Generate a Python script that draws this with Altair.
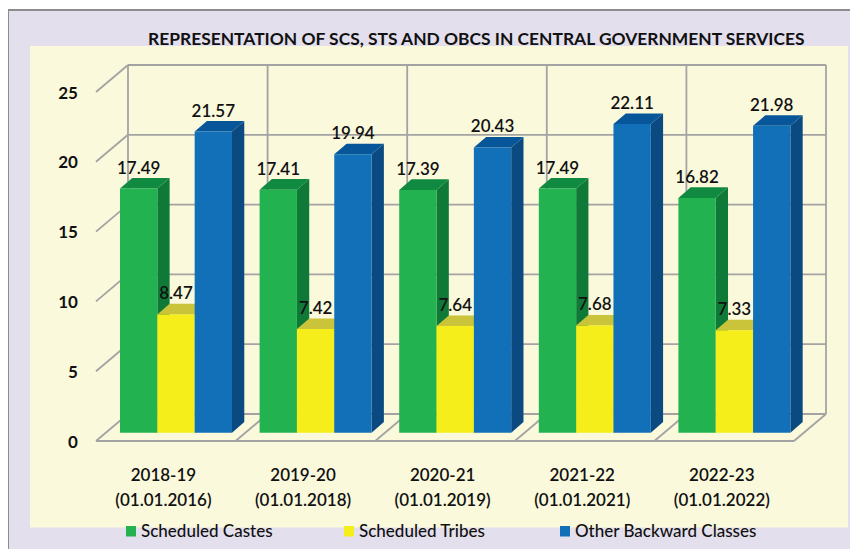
import altair as alt
import pandas as pd

# ---- data ----
periods = ["2018-19", "2019-20", "2020-21", "2021-22", "2022-23"]
dates = ["(01.01.2016)", "(01.01.2018)", "(01.01.2019)", "(01.01.2021)", "(01.01.2022)"]
sc = [17.49, 17.41, 17.39, 17.49, 16.82]
st = [8.47, 7.42, 7.64, 7.68, 7.33]
obc = [21.57, 19.94, 20.43, 22.11, 21.98]
y_ticks = [0, 5, 10, 15, 20, 25]
title_text = "REPRESENTATION OF SCS, STS AND OBCS IN CENTRAL GOVERNMENT SERVICES"
legend_names = ["Scheduled Castes", "Scheduled Tribes", "Other Backward Classes"]

# ---- geometry of the pseudo-3D drawing, in data units ----
W, H = 840, 539
X_SCALE = alt.Scale(domain=[-0.616, 5.4011], range=[0, W], nice=False, zero=False)
Y_SCALE = alt.Scale(domain=[-7.736, 30.874], range=[H, 0], nice=False, zero=False)
WALL_DX, WALL_DY = 0.2292, 1.934
BAR_DX, BAR_DY = 0.088, 0.76
BAR_W, BAR_START, BAR_BASE = 0.2674, 0.172, 0.595
GRID = "#A3A3A3"
FONT = "Lato"
series = [
    (sc, "#22B24F", "#108A40", "#0F7A38"),
    (st, "#F5EE1A", "#C9C43A", "#C9C43A"),
    (obc, "#1170B8", "#08569A", "#0A4A80"),
]

x_enc = alt.X("x:Q", scale=X_SCALE, axis=None)
y_enc = alt.Y("y:Q", scale=Y_SCALE, axis=None)


def px_rect(x, x2, y, y2, color, **kw):
    return alt.Chart(pd.DataFrame({"a": [0]})).mark_rect(color=color, **kw).encode(
        x=alt.value(x), x2=alt.value(x2), y=alt.value(y), y2=alt.value(y2)
    )


layers = [
    px_rect(-2, W, 0, H, "#E4DFEC"),
    px_rect(-3, -1, -1, H, "#8C8C8C"),
    px_rect(-3, W, -1, 1, "#8C8C8C"),
    px_rect(20, 838, 36, 517.5, "#FAF9DC"),
]

# back-wall horizontal lines and side diagonals
wall_h = pd.DataFrame({"y": [v + WALL_DY for v in y_ticks],
                       "x": [WALL_DX] * 6, "x2": [5 + WALL_DX] * 6})
layers.append(alt.Chart(wall_h).mark_rule(color=GRID, strokeWidth=1.8).encode(
    x=x_enc, x2="x2:Q", y=y_enc))
wall_v = pd.DataFrame({"x": [k + WALL_DX for k in range(6)],
                       "y": [WALL_DY] * 6, "y2": [25 + WALL_DY] * 6})
layers.append(alt.Chart(wall_v).mark_rule(color=GRID, strokeWidth=1.8).encode(
    x=x_enc, y=y_enc, y2="y2:Q"))
diag = []
for v in y_ticks:
    diag += [dict(g=f"v{v}", x=0, y=v), dict(g=f"v{v}", x=WALL_DX, y=v + WALL_DY)]
for k in range(1, 6):
    diag += [dict(g=f"k{k}", x=k, y=0), dict(g=f"k{k}", x=k + WALL_DX, y=WALL_DY)]
layers.append(alt.Chart(pd.DataFrame(diag)).mark_line(color=GRID, strokeWidth=1.8).encode(
    x=x_enc, y=y_enc, detail="g:N"))
floor = pd.DataFrame({"x": [0], "x2": [5], "y": [0]})
layers.append(alt.Chart(floor).mark_rule(color=GRID, strokeWidth=1.8).encode(
    x=x_enc, x2="x2:Q", y=y_enc))

# bars: side, top and front faces, series by series
label_rows = []
for s, (vals, front, top, side) in enumerate(series):
    side_rows, top_rows, front_rows = [], [], []
    for k, v in enumerate(vals):
        x0 = k + BAR_START + s * BAR_W
        x1 = x0 + BAR_W
        t = BAR_BASE + v
        side_rows += [dict(g=k, x=x1, y=t, y2=BAR_BASE),
                      dict(g=k, x=x1 + BAR_DX, y=t + BAR_DY, y2=BAR_BASE + BAR_DY)]
        top_rows += [dict(g=k, x=x0, y=t, y2=t),
                     dict(g=k, x=x0 + BAR_DX, y=t + BAR_DY, y2=t),
                     dict(g=k, x=x1, y=t + BAR_DY, y2=t),
                     dict(g=k, x=x1 + BAR_DX, y=t + BAR_DY, y2=t + BAR_DY)]
        front_rows.append(dict(x=x0, x2=x1, y=BAR_BASE, y2=t))
        label_rows.append(dict(x=(x0 + x1) / 2, y=t, t=f"{v:.2f}"))
    layers.append(alt.Chart(pd.DataFrame(side_rows)).mark_area(color=side, interpolate="linear").encode(
        x=x_enc, y=y_enc, y2="y2:Q", detail="g:N"))
    layers.append(alt.Chart(pd.DataFrame(top_rows)).mark_area(color=top, interpolate="linear").encode(
        x=x_enc, y=y_enc, y2="y2:Q", detail="g:N"))
    layers.append(alt.Chart(pd.DataFrame(front_rows)).mark_rect(color=front).encode(
        x=x_enc, x2="x2:Q", y=y_enc, y2="y2:Q"))

layers.append(alt.Chart(pd.DataFrame(label_rows)).mark_text(
    font=FONT, fontSize=17, fontWeight=600, color="#111111", dy=-15, baseline="alphabetic", align="center"
).encode(x=x_enc, y=y_enc, text="t:N"))

# value-axis labels
ticks = pd.DataFrame({"x": [0] * 6, "y": y_ticks, "t": [str(v) for v in y_ticks]})
layers.append(alt.Chart(ticks).mark_text(
    font=FONT, fontSize=17, fontWeight=700, color="#111111", align="right", baseline="middle", dx=-18, dy=1.5
).encode(x=x_enc, y=y_enc, text="t:N"))

# category labels, two lines each
cat = pd.DataFrame({"x": [k + 0.483 for k in range(5)], "a": periods, "b": dates})
for field, py in (("a", 466), ("b", 491)):
    layers.append(alt.Chart(cat).mark_text(
        font=FONT, fontSize=17, fontWeight=600, color="#111111", align="center", baseline="middle"
    ).encode(x=x_enc, y=alt.value(py), text=f"{field}:N"))

# title
layers.append(alt.Chart(pd.DataFrame({"t": [title_text]})).mark_text(
    font=FONT, fontSize=17.4, fontWeight=700, color="#111111", align="left", baseline="alphabetic"
).encode(x=alt.value(138), y=alt.value(35), text="t:N"))

# legend
swatch_x = [116, 334, 550]
for name, sx, (_, front, _, _) in zip(legend_names, swatch_x, series):
    layers.append(px_rect(sx, sx + 10, 516, 526.5, front))
    layers.append(alt.Chart(pd.DataFrame({"t": [name]})).mark_text(
        font=FONT, fontSize=17, fontWeight=500, color="#111111", align="left", baseline="middle"
    ).encode(x=alt.value(sx + 15), y=alt.value(521.5), text="t:N"))

chart = alt.layer(*layers).properties(
    width=W, height=H,
    padding={"left": 2, "top": 2, "right": 0, "bottom": 0},
    autosize=alt.AutoSizeParams(type="none"),
).configure_view(stroke=None).configure(background="#FFFFFF")

chart.save("out.html", embed_options={"renderer": "svg", "actions": False})
